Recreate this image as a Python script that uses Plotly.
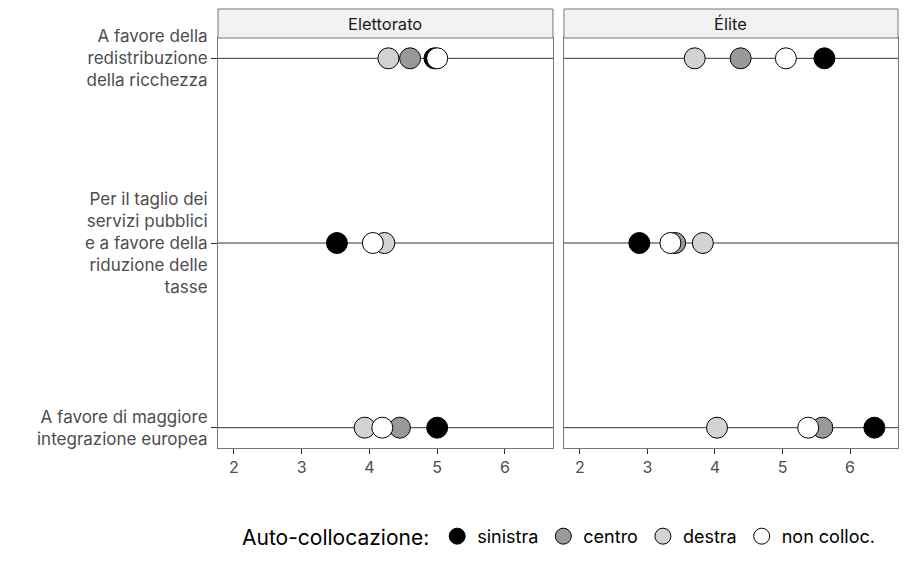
import plotly.graph_objects as go
from plotly.subplots import make_subplots

# Dimensioni (dall'alto verso il basso)
dimensioni = [
    "A favore della<br>redistribuzione<br>della ricchezza",
    "Per il taglio dei<br>servizi pubblici<br>e a favore della<br>riduzione delle<br>tasse",
    "A favore di maggiore<br>integrazione europea",
]
pannelli = ["Elettorato", "Élite"]
gruppi = ["sinistra", "centro", "destra", "non colloc."]
colori = ["#000000", "#999999", "#d3d3d3", "#ffffff"]

# posizione media per gruppo, stesso ordine di dimensioni
elettorato = {
    "sinistra": [4.96, 3.52, 5.00],
    "centro": [4.60, None, 4.45],
    "destra": [4.28, 4.22, 3.93],
    "non colloc.": [5.00, 4.05, 4.19],
}
elite = {
    "sinistra": [5.62, 2.88, 6.36],
    "centro": [4.38, 3.41, 5.59],
    "destra": [3.70, 3.82, 4.03],
    "non colloc.": [5.05, 3.34, 5.38],
}

ypos = [3, 2, 1]
font = "Inter, Roboto, sans-serif"
bordo = "#777777"

fig = make_subplots(rows=1, cols=2, shared_yaxes=True, horizontal_spacing=0.0162)

for col, dati in enumerate([elettorato, elite], start=1):
    for g, c in zip(gruppi, colori):
        xs = [v for v in dati[g] if v is not None]
        ys = [ypos[i] for i, v in enumerate(dati[g]) if v is not None]
        fig.add_trace(go.Scatter(
            x=xs, y=ys, mode="markers", name=g,
            marker=dict(size=21, color=c, line=dict(color="#000000", width=1)),
            showlegend=(col == 1), legendgroup=g, hoverinfo="x+name",
        ), row=1, col=col)
    # linee orizzontali per ogni dimensione (dopo le tracce, sotto i punti)
    for y in ypos:
        fig.add_hline(y=y, line=dict(color="#333333", width=1), layer="below", row=1, col=col)

# strisce dei pannelli
doms = [[0, 0.4926], [0.5088, 1]]
for d, titolo in zip(doms, pannelli):
    fig.add_shape(type="rect", xref="paper", yref="paper", x0=d[0], x1=d[1], y0=1.0, y1=1.0707,
                  fillcolor="#f2f2f2", line=dict(color=bordo, width=1))
    fig.add_annotation(text=titolo, xref="paper", yref="paper", x=(d[0] + d[1]) / 2, y=1.035,
                       xanchor="center", yanchor="middle", showarrow=False,
                       font=dict(size=16.5, color="#1a1a1a", family=font))

for i, d in enumerate(doms, start=1):
    fig.update_xaxes(domain=d, range=[1.764, 6.71], tickvals=[2, 3, 4, 5, 6],
                     ticks="outside", ticklen=5, tickcolor="#333333",
                     tickfont=dict(size=16, color="#4d4d4d", family=font),
                     showgrid=False, zeroline=False, showline=True, mirror=True,
                     linecolor=bordo, linewidth=1, automargin=False, row=1, col=i)
    fig.update_yaxes(range=[0.89, 3.11], tickvals=ypos, ticktext=dimensioni,
                     ticks="outside" if i == 1 else "", ticklen=6, tickcolor="#333333",
                     showticklabels=(i == 1),
                     tickfont=dict(size=17, color="#4d4d4d", family=font),
                     showgrid=False, zeroline=False, showline=True, mirror=True,
                     linecolor=bordo, linewidth=1, automargin=False, row=1, col=i)

fig.update_layout(
    width=908, height=568,
    margin=dict(l=218, r=10, t=38, b=120, autoexpand=False),
    plot_bgcolor="white", paper_bgcolor="white",
    font=dict(family=font, color="#000000"),
    legend=dict(
        orientation="h", x=0.503, xanchor="center", y=-0.217, yanchor="middle",
        title=dict(text="Auto-collocazione:", font=dict(size=21, color="#000000"), side="left"),
        font=dict(size=18, color="#000000"),
    ),
)

# niente margine del body, così la figura parte da (0, 0)
fig.write_html("out.html", config={"displayModeBar": False},
               post_script="document.body.style.margin='0';")
